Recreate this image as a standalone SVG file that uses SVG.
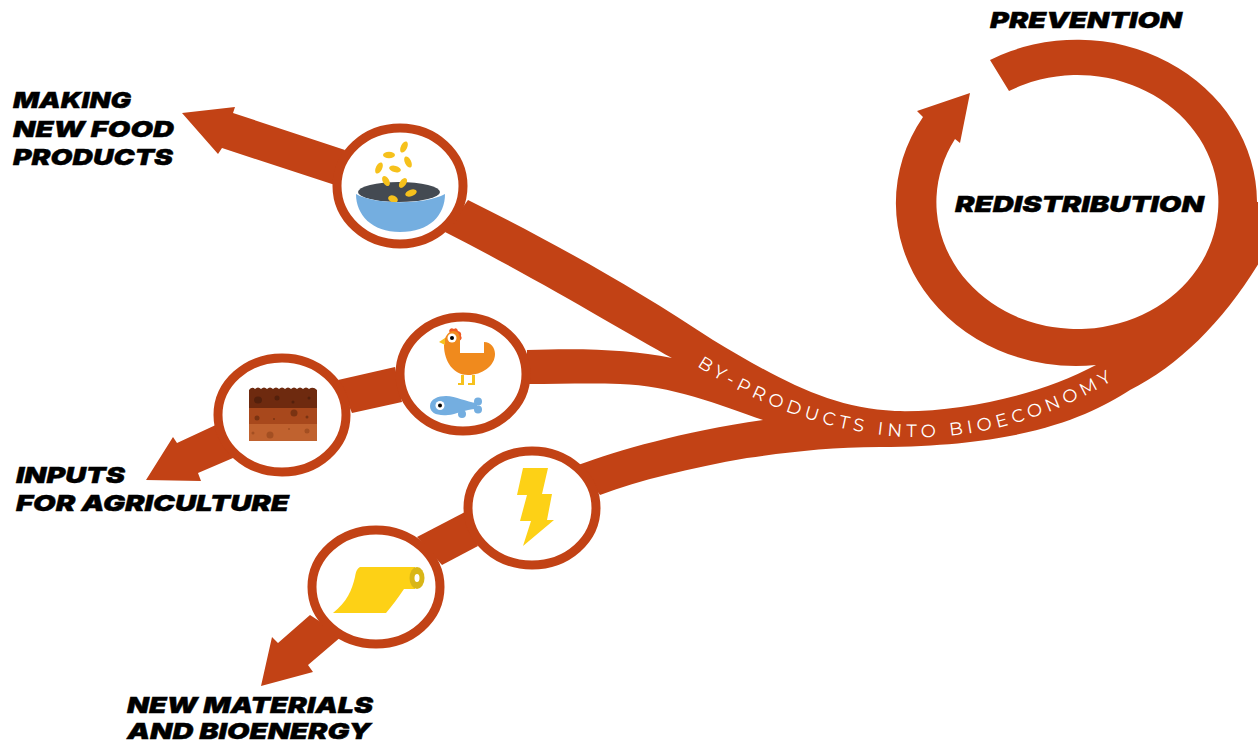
<svg xmlns="http://www.w3.org/2000/svg" width="1258" height="744" viewBox="0 0 1258 744">
<style>
.b{fill:#c24215}
.c{fill:#fff;stroke:#c24215;stroke-width:9}
.t{font-family:Inter,"Liberation Sans",sans-serif;font-weight:900;font-style:italic;font-size:22px;fill:#000;stroke:#000;stroke-width:.4}
.y{fill:#fdd116}
.g{fill:#f6c11c}
.o{fill:#f08a1d}
.bl{fill:#74aee0}
</style>
<defs><path id="label-path" d="M697 366C750 400 820 432 905 437C980 440 1050 417 1110 382"/></defs>
<rect width="1258" height="744" fill="#fff"/>
<g id="connectors">
<path id="flow" class="b" d="M990 60A180 163 0 0 1 1257 202L1262 202L1262 258C1225 320 1180 365 1130 390C1090 415 1030 446 880 447C830 447 790 452 747 458C690 468 640 480 600 495L578 465C620 450 680 432 763 420C720 405 670 385 620 384C590 383 560 384 527 384L527 350C590 348 630 350 672 358C625 332 530 275 445 232L468 200C545 238 630 285 713 340C780 380 830 408 895 411C960 413 1040 395 1096 365A180 163 0 0 1 923 117L917 111L970 93L960 143L955 139A141 127 0 1 0 1009 91Z"/>
<path id="food-arrow" class="b" d="M182 113L235 107L233 113L345 150L335 185L222 148L218 154Z"/>
<path id="link-soil" class="b" d="M338 380L395 367L402 402L352 413Z"/>
<path id="agri-arrow" class="b" d="M146 480L173 437L177 443L220 423L240 455L198 473L201 481Z"/>
<path id="link-mat" class="b" d="M417 537L465 512L478 546L442 565Z"/>
<path id="mat-arrow" class="b" d="M261 686L272 637L278 643L310 615L342 636L308 665L313 672Z"/>
</g>
<g id="node-food">
<ellipse class="c" cx="400" cy="186" rx="63" ry="58"/>
<ellipse cx="399" cy="192" rx="41" ry="10" fill="#444a52"/>
<g class="g">
<ellipse cx="389" cy="155" rx="6" ry="3.200"/><ellipse cx="404" cy="147" rx="3.200" ry="6" transform="rotate(25 404 147)"/><ellipse cx="408" cy="162" rx="3.200" ry="6" transform="rotate(-25 408 162)"/><ellipse cx="379" cy="168" rx="3.200" ry="6" transform="rotate(25 379 168)"/><ellipse cx="395" cy="169" rx="6" ry="3.200" transform="rotate(15 395 169)"/><ellipse cx="386" cy="181" rx="3.200" ry="5.500" transform="rotate(-30 386 181)"/><ellipse cx="403" cy="183" rx="3.200" ry="5.500" transform="rotate(35 403 183)"/><ellipse cx="411" cy="193" rx="6" ry="3.200" transform="rotate(-20 411 193)"/><ellipse cx="393" cy="199" rx="5" ry="3.500" transform="rotate(20 393 199)"/>
</g>
<path class="bl" d="M356 194C375 205 425 205 445 194C445 215 430 232 400 232C372 232 356 215 356 194Z"/>
</g>
<g id="node-chicken">
<ellipse class="c" cx="463" cy="374" rx="63" ry="57"/>
<path fill="#ef5a24" d="M449 331Q450 327 454 329Q457 327 458 331Q462 332 461 336Q463 339 459 341L452 336Z"/>
<path class="o" d="M444 345C444 335 450 331 453 331C459 331 460 336 460 340L460 353L484 353L484 342C491 342 495 348 495 354C495 366 482 375 468 375C454 375 444 362 444 345Z"/>
<path fill="#f6c11c" d="M439 342L445 338L445 345Z"/>
<circle cx="452" cy="338" r="4.500" fill="#fff"/><circle cx="452" cy="338" r="2"/>
<path fill="#f6c11c" d="M461 375H464V385H458V383H461ZM472 375H475V385H468V383H472Z"/>
<path class="bl" d="M430 406C430 399 438 396 446 396C456 396 466 402 477 403L477 409C464 409 456 415 448 415C437 416 430 413 430 406Z"/>
<circle class="bl" cx="478" cy="401.500" r="4"/><circle class="bl" cx="478" cy="409.500" r="4"/><circle class="bl" cx="462" cy="414" r="4"/>
<circle cx="440" cy="405.500" r="4.500" fill="#fff"/><circle cx="440" cy="405.500" r="2"/>
</g>
<g id="node-soil">
<ellipse class="c" cx="282" cy="415" rx="64" ry="57"/>
<path d="M249 390Q252 386 255 389Q258 386 261 389Q264 386 267 389Q270 386 273 389Q276 386 279 389Q282 386 285 389Q288 386 291 389Q294 386 297 389Q300 386 303 389Q306 386 309 389Q313 386 317 390V408H249Z" fill="#6e2a0f"/>
<rect x="249" y="408" width="68" height="16" fill="#a8481c"/>
<rect x="249" y="424" width="68" height="17" fill="#c0622f"/>
<g fill="#53200c"><ellipse cx="258" cy="400" rx="4" ry="3.500"/><circle cx="277" cy="398" r="2.500"/><circle cx="293" cy="402" r="1.500"/><circle cx="309" cy="398" r="1.500"/></g>
<g fill="#7a3312"><circle cx="257" cy="418" r="2.500"/><circle cx="274" cy="419" r="1"/><circle cx="294" cy="413" r="3.500"/><circle cx="307" cy="417" r="1.500"/></g>
<g fill="#a34f22"><circle cx="270" cy="435" r="3.500"/><circle cx="253" cy="433" r="1.500"/><circle cx="289" cy="429" r="1"/><circle cx="307" cy="431" r="2.500"/></g>
</g>
<g id="node-energy">
<ellipse class="c" cx="532" cy="508" rx="64" ry="57"/>
<path class="y" d="M523 468H548L542 494H552L547 520H554L523 546L531 521H520L527 495H517Z"/>
</g>
<g id="node-materials">
<ellipse class="c" cx="376" cy="587" rx="64" ry="57"/>
<path class="y" d="M360 567H415V589H404C398 598 392 606 386 613H333C347 602 352 590 355 577C356 571 357 569 360 567Z"/>
<ellipse cx="417" cy="578" rx="7.500" ry="11" fill="#d9b617"/><ellipse cx="417" cy="578" rx="2.500" ry="4" fill="#fff"/>
</g>
<g id="labels">
<text fill="#fff" font-family="Montserrat,'Open Sans',sans-serif" font-size="18" letter-spacing="4.600"><textPath href="#label-path" startOffset="0">BY-PRODUCTS INTO BIOECONOMY</textPath></text>
<text class="t"><tspan x="13" y="108" textLength="118" lengthAdjust="spacingAndGlyphs">MAKING</tspan><tspan x="13" y="137" textLength="161" lengthAdjust="spacingAndGlyphs">NEW FOOD</tspan><tspan x="13" y="165" textLength="160" lengthAdjust="spacingAndGlyphs">PRODUCTS</tspan></text>
<text class="t"><tspan x="16" y="483" textLength="109" lengthAdjust="spacingAndGlyphs">INPUTS</tspan><tspan x="16" y="511" textLength="273" lengthAdjust="spacingAndGlyphs">FOR AGRICULTURE</tspan></text>
<text class="t"><tspan x="127" y="713" textLength="246" lengthAdjust="spacingAndGlyphs">NEW MATERIALS</tspan><tspan x="127" y="739" textLength="244" lengthAdjust="spacingAndGlyphs">AND BIOENERGY</tspan></text>
<text class="t" x="990" y="28" textLength="192" lengthAdjust="spacingAndGlyphs">PREVENTION</text>
<text class="t" x="955" y="212" textLength="249" lengthAdjust="spacingAndGlyphs">REDISTRIBUTION</text>
</g>
</svg>
